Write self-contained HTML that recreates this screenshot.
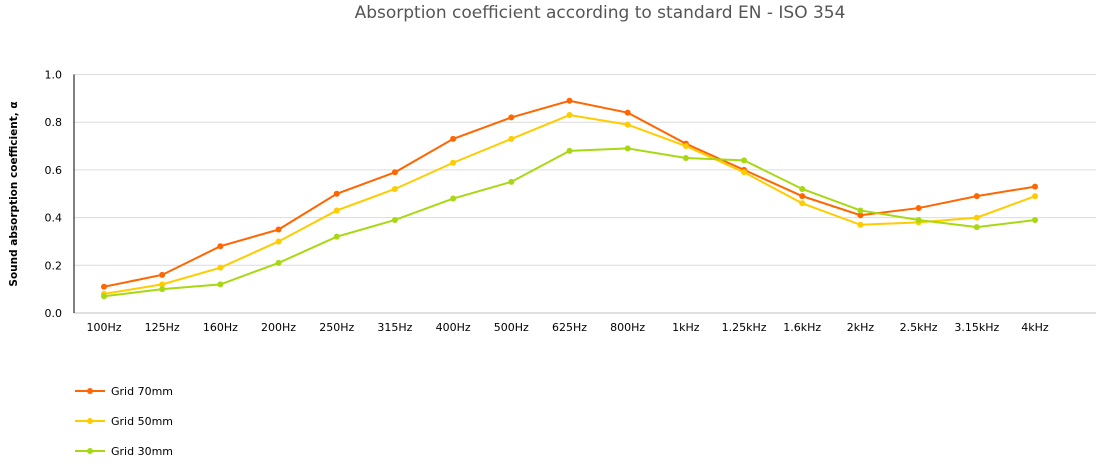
<!DOCTYPE html>
<html><head><meta charset="utf-8"><style>
body{margin:0;background:#fff;font-family:"Liberation Sans",Verdana,sans-serif}
svg text{font-family:"DejaVu Sans","Liberation Sans",sans-serif}
</style></head><body>
<svg id="chart" width="1101" height="461" xmlns="http://www.w3.org/2000/svg"></svg>
<script>
const categories=["100Hz","125Hz","160Hz","200Hz","250Hz","315Hz","400Hz","500Hz","625Hz","800Hz","1kHz","1.25kHz","1.6kHz","2kHz","2.5kHz","3.15kHz","4kHz"];
const grid70=[0.11,0.16,0.28,0.35,0.50,0.59,0.73,0.82,0.89,0.84,0.71,0.60,0.49,0.41,0.44,0.49,0.53];
const grid50=[0.08,0.12,0.19,0.30,0.43,0.52,0.63,0.73,0.83,0.79,0.70,0.59,0.46,0.37,0.38,0.40,0.49];
const grid30=[0.07,0.10,0.12,0.21,0.32,0.39,0.48,0.55,0.68,0.69,0.65,0.64,0.52,0.43,0.39,0.36,0.39];
const yTicks=[0,0.2,0.4,0.6,0.8,1.0];
const yTickLabels=["0.0","0.2","0.4","0.6","0.8","1.0"];
const seriesNames=["Grid 70mm","Grid 50mm","Grid 30mm"];
const seriesColors=["#ff6600","#ffcc00","#a8d812"];
const svg=document.getElementById('chart');const NS="http://www.w3.org/2000/svg";
function mk(t,a,p){const e=document.createElementNS(NS,t);for(const k in a)e.setAttribute(k,a[k]);(p||svg).appendChild(e);return e;}
const x0=74,x1=1096,yTop=74.5,yBot=313;
const xS=i=>104+i*(1035-104)/(categories.length-1);
const yS=v=>yBot-(v/1)*(yBot-yTop);
let t=mk('text',{x:600,y:18,'text-anchor':'middle','font-size':17,fill:'#555'});t.textContent="Absorption coefficient according to standard EN - ISO 354";

yTicks.forEach((v,i)=>{const g=mk('line',{x1:x0,x2:x1,y1:yS(v),y2:yS(v),stroke:i==0?'#c0c0c0':'#dcdcdc','stroke-width':1});

const l=mk('text',{x:62,y:yS(v)+4,'text-anchor':'end','font-size':11,fill:'#000'});l.textContent=yTickLabels[i];
});
const ax=mk('line',{x1:x0,x2:x0,y1:yTop,y2:yBot,stroke:'#000','stroke-width':1});

const yt=mk('text',{transform:'translate(17,194) rotate(-90)','text-anchor':'middle','font-size':10.5,'font-weight':'bold',fill:'#000'});yt.textContent="Sound absorption coefficient, α";

categories.forEach((c,i)=>{const l=mk('text',{x:xS(i),y:331,'text-anchor':'middle','font-size':11,fill:'#000'});l.textContent=c;
});
[grid70,grid50,grid30].forEach((data,s)=>{const g=mk('g',{});

const p=mk('polyline',{points:data.map((v,i)=>xS(i)+','+yS(v)).join(' '),fill:'none',stroke:seriesColors[s],'stroke-width':2},g);

data.forEach((v,i)=>{const c=mk('circle',{cx:xS(i),cy:yS(v),r:3,fill:seriesColors[s]},g);
});
const ly=391+s*30;const lg=mk('g',{});

mk('line',{x1:75,x2:105,y1:ly,y2:ly,stroke:seriesColors[s],'stroke-width':2},lg);
mk('circle',{cx:90,cy:ly,r:3,fill:seriesColors[s]},lg);
const lt=mk('text',{x:111,y:ly+4,'font-size':11,fill:'#000'},lg);lt.textContent=seriesNames[s];});
</script>
</body></html>
